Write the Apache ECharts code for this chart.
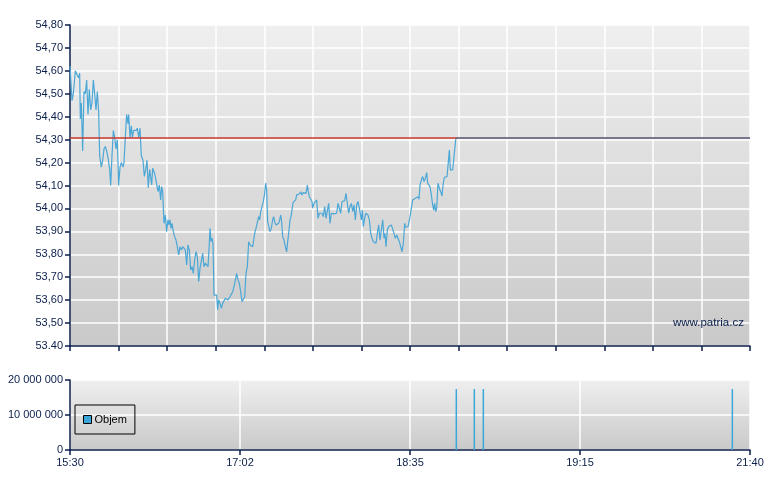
<!DOCTYPE html>
<html>
<head>
<meta charset="utf-8">
<script src="https://cdn.jsdelivr.net/npm/echarts@6/dist/echarts.min.js"></script>
<style>
html,body{margin:0;padding:0;background:#fff;}
#chart{width:780px;height:490px;}
</style>
</head>
<body>
<div id="chart"></div>
<script>
// Minutes after 15:30 for each price point
var priceMinutes = [0.0,1.09,1.81,2.9,4.0,4.7,5.26,5.62,6.17,6.89,7.62,8.34,9.07,9.79,10.52,11.25,11.97,12.7,13.42,14.15,14.87,15.6,16.14,17.05,17.78,18.5,19.23,19.95,20.68,21.6,22.13,22.85,23.58,24.3,25.03,25.76,26.48,27.2,27.93,28.84,29.38,30.11,30.8,31.56,31.92,32.65,33.37,33.92,34.65,35.37,36.1,36.6,37.4,38.1,38.8,39.7,40.45,41.2,41.9,42.6,43.35,
44.44,44.98,45.71,46.43,47.16,47.88,48.61,49.33,49.88,50.42,51.15,51.87,52.60,53.32,53.87,54.41,54.96,55.50,56.23,56.95,57.68,58.40,59.13,59.85,60.58,61.31,62.03,62.76,63.48,64.21,64.93,65.66,66.38,67.11,67.83,68.56,69.29,70.01,70.74,71.46,72.19,72.91,73.64,74.36,75.09,75.81,76.18,76.72,77.27,77.81,78.35,79.08,79.81,80.35,80.89,81.62,82.35,83.07,83.80,84.52,85.25,85.97,86.70,87.06,87.79,88.51,89.24,89.96,90.69,91.41,92.14,92.86,93.59,94.32,95.04,95.77,96.49,97.22,
97.94,98.85,99.39,100.12,100.66,101.20,101.93,102.66,103.20,103.74,104.47,105.20,105.92,106.46,107.01,107.55,108.10,108.82,109.55,110.27,110.82,111.36,112.09,112.81,113.54,114.08,114.63,115.17,115.72,116.44,117.17,117.89,118.44,118.98,119.71,120.25,120.79,121.34,122.06,122.79,123.33,124.06,124.78,125.51,126.24,126.96,127.69,128.41,129.14,129.68,130.23,130.95,131.68,132.04,132.76,133.49,134.22,134.94,135.67,136.39,137.12,137.84,138.57,139.29,140.02,140.75,141.47,142.20,142.92,143.65,144.37,145.10,145.82,146.55,147.27,148.00,148.73,149.45,150.18,150.90,151.63,152.35,
153.09,153.81,154.54,155.26,155.99,156.71,157.44,158.53,159.07,159.62,160.34,160.89,161.43,162.15,162.88,163.61,164.33,165.06,165.78,166.51,167.23,167.96,168.68,169.41,170.14,170.86,171.40,171.95,172.67,173.40,174.13,174.85,175.58,176.30,177.03,177.75,178.48,179.20,179.93,180.66,181.38,182.11,182.65,183.19,183.92,184.46,185.01,185.73,186.46,187.18,187.91,188.64,189.36,189.91,190.45,191.18,191.90,192.63,193.35,194.08,194.62,195.35,195.89,196.62,197.34,197.89,198.43,198.97,199.52,200.24,200.97,201.70,202.42,202.97,203.69,204.42,205.14,205.87,206.41,206.96,207.50,208.23,208.77,209.31,209.86,210.40];

var priceValues = [54.62,54.47,54.50,54.60,54.58,54.57,54.59,54.39,54.46,54.25,54.51,54.50,54.56,54.41,54.52,54.43,54.46,54.56,54.50,54.43,54.51,54.42,54.23,54.18,54.21,54.26,54.27,54.25,54.22,54.17,54.10,54.23,54.34,54.31,54.26,54.30,54.10,54.18,54.20,54.18,54.20,54.31,54.41,54.37,54.41,54.31,54.36,54.31,54.34,54.34,54.34,54.35,54.31,54.35,54.23,54.21,54.14,54.17,54.21,54.09,54.17,
54.102,54.175,54.160,54.139,54.139,54.073,54.102,54.037,54.095,54.073,53.935,53.971,53.899,53.950,53.928,53.950,53.913,53.935,53.899,53.877,53.862,53.833,53.797,53.833,53.819,53.833,53.826,53.819,53.753,53.841,53.819,53.732,53.746,53.717,53.775,53.812,53.790,53.681,53.739,53.746,53.804,53.746,53.761,53.753,53.746,53.848,53.913,53.855,53.870,53.848,53.622,53.622,53.622,53.557,53.601,53.586,53.564,53.586,53.593,53.608,53.615,53.601,53.593,53.615,53.608,53.637,53.659,53.666,53.717,53.688,53.673,53.637,53.593,53.586,53.615,53.717,53.746,53.855,
53.841,53.836,53.833,53.841,53.899,53.913,53.906,53.964,53.950,53.986,53.993,54.030,54.066,54.110,54.080,53.942,53.935,53.899,53.913,53.950,53.964,53.942,53.928,53.935,53.935,53.950,53.971,53.942,53.877,53.862,53.833,53.811,53.855,53.891,53.950,53.964,53.993,54.025,54.030,54.037,54.059,54.066,54.063,54.073,54.059,54.069,54.073,54.066,54.102,54.073,54.051,54.044,54.030,54.001,54.022,54.030,54.037,53.957,53.979,53.982,53.979,53.964,54.008,53.957,53.950,54.022,53.935,53.979,53.979,53.976,53.982,53.979,54.022,54.030,53.979,54.030,54.037,54.034,54.066,54.022,53.979,54.008,
54.022,53.986,54.015,53.950,54.015,54.030,54.001,53.950,53.993,53.921,53.957,53.979,53.982,53.971,53.950,53.891,53.870,53.855,53.862,53.848,53.891,53.928,53.862,53.906,53.950,53.870,53.891,53.833,53.906,53.921,53.921,53.928,53.935,53.891,53.870,53.884,53.891,53.855,53.833,53.811,53.848,53.935,53.918,53.923,53.921,53.921,53.964,53.964,54.037,54.044,54.044,54.037,54.051,54.040,54.102,54.124,54.139,54.117,54.131,54.156,54.110,54.102,54.095,54.059,54.015,53.993,54.022,53.986,54.001,54.110,54.088,54.073,54.054,54.102,54.136,54.141,54.139,54.204,54.255,54.168,54.160,54.168,54.211,54.211,54.300,54.310];

var previousClose = 54.31;
var sessionMinutes = 370; // 15:30 .. 21:40

var volumeMinutes = [210.2, 220.0, 224.9, 360.4];
var volumeValues = [17400000, 17400000, 17400000, 17400000];

var priceTickLabels = ['53.40','53,50','53,60','53,70','53,80','53,90','54,00','54,10','54,20','54,30','54,40','54,50','54,60','54,70','54,80'];
var timeTickLabels = ['15:30','17:02','18:35','19:15','21:40'];
var volumeTickLabels = ['0','10 000 000','20 000 000'];
var legendName = 'Objem';
var watermark = 'www.patria.cz';

var navy = '#0b1f4b';
var font = '"Liberation Sans", Arial, sans-serif';
var bg = {type:'linear',x:0,y:0,x2:0,y2:1,colorStops:[{offset:0,color:'#efefef'},{offset:1,color:'#c9c9c9'}]};

var priceData = priceMinutes.map(function(m,i){return [m, priceValues[i]];});
var volData = volumeMinutes.map(function(m,i){return [m, volumeValues[i]];});
var lastM = priceMinutes[priceMinutes.length-1];
var lastP = priceValues[priceValues.length-1];

var chart = echarts.init(document.getElementById('chart'), null, {renderer:'canvas'});
chart.setOption({
  animation:false,
  backgroundColor:'#ffffff',
  textStyle:{fontFamily:font},
  grid:[
    {left:70, top:25, width:680, height:321, show:true, backgroundColor:bg, borderWidth:0},
    {left:70, top:380, width:680, height:70, show:true, backgroundColor:bg, borderWidth:0}
  ],
  legend:{
    data:[legendName], left:75, top:405, orient:'vertical',
    borderColor:'#000', borderWidth:1, padding:[9,8,9,8],
    itemWidth:8, itemHeight:8, itemGap:4, icon:'rect',
    itemStyle:{borderColor:'#000', borderWidth:1},
    textStyle:{color:'#000', fontSize:11, fontFamily:font, padding:[0,0,0,-2]}
  },
  xAxis:[
    {gridIndex:0, type:'value', min:0, max:sessionMinutes, interval:sessionMinutes/14,
     axisLine:{show:true, onZero:false, lineStyle:{color:navy, width:1.5}},
     axisTick:{show:true, inside:false, length:5, lineStyle:{color:navy, width:1.5}},
     axisLabel:{show:false},
     splitLine:{show:true, lineStyle:{color:'#ffffff', width:1.5}}},
    {gridIndex:1, type:'value', min:0, max:sessionMinutes, interval:sessionMinutes/4,
     axisLine:{show:true, onZero:false, lineStyle:{color:navy, width:1.5}},
     axisTick:{show:true, inside:false, length:5, lineStyle:{color:navy, width:1.5}},
     axisLabel:{show:true, color:navy, fontSize:11, fontFamily:font, margin:7,
       formatter:function(v){return timeTickLabels[Math.round(v/(sessionMinutes/4))]||'';}},
     splitLine:{show:true, lineStyle:{color:'#ffffff', width:1.5}}}
  ],
  yAxis:[
    {gridIndex:0, type:'value', min:53.4, max:54.8, interval:0.1,
     axisLine:{show:true, lineStyle:{color:navy, width:1.5}},
     axisTick:{show:true, inside:false, length:5, lineStyle:{color:navy, width:1.5}},
     axisLabel:{color:navy, fontSize:11, fontFamily:font, margin:7,
       formatter:function(v){return priceTickLabels[Math.round((v-53.4)/0.1)]||'';}},
     splitLine:{show:true, lineStyle:{color:'#ffffff', width:1.5}}},
    {gridIndex:1, type:'value', min:0, max:20000000, interval:10000000,
     axisLine:{show:true, lineStyle:{color:navy, width:1.5}},
     axisTick:{show:true, inside:false, length:5, lineStyle:{color:navy, width:1.5}},
     axisLabel:{color:navy, fontSize:11, fontFamily:font, margin:7,
       formatter:function(v){return volumeTickLabels[Math.round(v/10000000)]||'';}},
     splitLine:{show:true, lineStyle:{color:'#ffffff', width:1.5}}}
  ],
  series:[
    {name:'Cena', type:'line', xAxisIndex:0, yAxisIndex:0, data:priceData,
     showSymbol:false, symbol:'none', lineStyle:{color:'#4ba7d6', width:1.2}, itemStyle:{color:'#4ba7d6'},
     markLine:{silent:true, symbol:['none','none'], animation:false, label:{show:false},
       data:[
         {yAxis:previousClose, lineStyle:{color:'#c8372d', width:1.5, type:'solid'}},
         [{coord:[lastM,lastP], lineStyle:{color:'#5a7e9e', width:1.5, type:'solid'}},{coord:[sessionMinutes,lastP]}]
       ]}},
    {name:legendName, type:'bar', xAxisIndex:1, yAxisIndex:1, data:volData,
     barWidth:1.5, itemStyle:{color:'#3aa6da', borderColor:'#000', borderWidth:0}}
  ],
  graphic:[
    {type:'text', left:673, top:317, z:100, style:{text:watermark, fill:navy, font:'11.5px "Liberation Sans", Arial, sans-serif'}}
  ]
});
</script>
</body>
</html>
